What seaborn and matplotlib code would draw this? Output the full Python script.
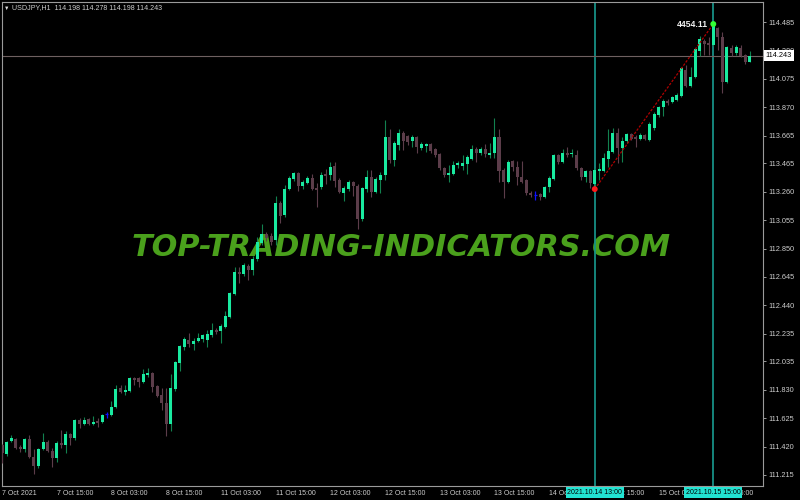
import numpy as np
import pandas as pd
import matplotlib
matplotlib.use('Agg')
import matplotlib.pyplot as plt
import matplotlib.transforms as mtransforms
from matplotlib import font_manager
import seaborn as sns

# USDJPY H1 bars, 7 Oct 2021 03:00 .. 15 Oct 2021 23:00 (165 bars)
bar_open = [
    111.431, 111.366, 111.460, 111.474, 111.417, 111.402, 111.474, 111.344, 111.279, 111.402,
    111.453, 111.388, 111.337, 111.446, 111.431, 111.511, 111.482, 111.612, 111.583, 111.619,
    111.583, 111.604, 111.597, 111.655, 111.648, 111.705, 111.843, 111.814, 111.821, 111.915,
    111.915, 111.886, 111.936, 111.951, 111.857, 111.792, 111.734, 111.583, 111.835, 112.023,
    112.139, 112.189, 112.160, 112.182, 112.196, 112.189, 112.225, 112.261, 112.254, 112.283,
    112.355, 112.521, 112.680, 112.666, 112.723, 112.695, 112.774, 112.890, 112.955, 112.940,
    112.911, 113.178, 113.092, 113.279, 113.352, 113.395, 113.301, 113.323, 113.359, 113.287,
    113.294, 113.388, 113.380, 113.445, 113.344, 113.251, 113.279, 113.330, 113.301, 113.063,
    113.279, 113.366, 113.258, 113.344, 113.380, 113.655, 113.489, 113.597, 113.684, 113.662,
    113.626, 113.655, 113.575, 113.590, 113.604, 113.568, 113.532, 113.431, 113.380, 113.388,
    113.453, 113.445, 113.460, 113.496, 113.568, 113.539, 113.568, 113.525, 113.539, 113.655,
    113.417, 113.330, 113.482, 113.438, 113.366, 113.344, 113.251, 113.236, 113.243, 113.222,
    113.294, 113.352, 113.525, 113.474, 113.539, 113.532, 113.525, 113.431, 113.366, 113.409,
    113.316, 113.409, 113.409, 113.496, 113.547, 113.684, 113.575, 113.626, 113.677, 113.655,
    113.640, 113.669, 113.633, 113.720, 113.814, 113.871, 113.915, 113.908, 113.922, 113.951,
    114.139, 114.023, 114.088, 114.276, 114.348, 114.334, 114.319, 114.442, 114.377, 114.052,
    114.297, 114.261, 114.297, 114.247, 114.198,
]
bar_high = [
    111.438, 111.460, 111.503, 111.482, 111.431, 111.482, 111.503, 111.402, 111.409, 111.518,
    111.467, 111.409, 111.460, 111.539, 111.532, 111.518, 111.619, 111.626, 111.633, 111.626,
    111.640, 111.626, 111.655, 111.669, 111.749, 111.864, 111.864, 111.864, 111.922, 111.922,
    111.922, 111.980, 111.987, 111.958, 111.864, 111.843, 111.843, 111.944, 112.038, 112.153,
    112.211, 112.240, 112.204, 112.240, 112.232, 112.261, 112.312, 112.276, 112.305, 112.399,
    112.536, 112.716, 112.716, 112.745, 112.738, 112.796, 112.933, 113.027, 112.969, 112.962,
    113.229, 113.193, 113.308, 113.373, 113.402, 113.402, 113.344, 113.373, 113.388, 113.323,
    113.402, 113.424, 113.474, 113.474, 113.359, 113.301, 113.344, 113.337, 113.316, 113.294,
    113.417, 113.417, 113.366, 113.402, 113.778, 113.713, 113.626, 113.713, 113.698, 113.669,
    113.669, 113.662, 113.619, 113.612, 113.612, 113.575, 113.539, 113.438, 113.453, 113.482,
    113.482, 113.525, 113.525, 113.597, 113.583, 113.583, 113.604, 113.612, 113.792, 113.713,
    113.431, 113.489, 113.489, 113.482, 113.482, 113.352, 113.265, 113.265, 113.251, 113.301,
    113.373, 113.532, 113.532, 113.568, 113.583, 113.568, 113.561, 113.438, 113.417, 113.417,
    113.431, 113.467, 113.539, 113.713, 113.720, 113.720, 113.655, 113.684, 113.684, 113.669,
    113.684, 113.677, 113.763, 113.835, 113.879, 113.929, 113.929, 113.951, 113.973, 114.160,
    114.175, 114.160, 114.297, 114.384, 114.362, 114.377, 114.471, 114.449, 114.413, 114.312,
    114.319, 114.319, 114.319, 114.254, 114.278,
]
bar_low = [
    111.301, 111.352, 111.453, 111.402, 111.381, 111.381, 111.337, 111.222, 111.265, 111.395,
    111.381, 111.272, 111.308, 111.409, 111.373, 111.431, 111.467, 111.554, 111.575, 111.575,
    111.575, 111.561, 111.590, 111.626, 111.640, 111.698, 111.807, 111.792, 111.814, 111.864,
    111.850, 111.879, 111.922, 111.814, 111.778, 111.684, 111.496, 111.532, 111.821, 111.965,
    112.117, 112.139, 112.117, 112.175, 112.175, 112.139, 112.211, 112.233, 112.168, 112.276,
    112.348, 112.514, 112.601, 112.651, 112.622, 112.658, 112.760, 112.875, 112.904, 112.875,
    112.875, 113.034, 113.077, 113.272, 113.337, 113.265, 113.279, 113.316, 113.272, 113.149,
    113.279, 113.316, 113.344, 113.294, 113.251, 113.193, 113.265, 113.229, 112.991, 113.048,
    113.258, 113.222, 113.251, 113.251, 113.344, 113.467, 113.445, 113.561, 113.561, 113.597,
    113.583, 113.539, 113.561, 113.547, 113.539, 113.510, 113.417, 113.366, 113.330, 113.380,
    113.431, 113.417, 113.388, 113.489, 113.474, 113.525, 113.510, 113.503, 113.503, 113.330,
    113.214, 113.323, 113.409, 113.308, 113.323, 113.236, 113.222, 113.200, 113.200, 113.214,
    113.258, 113.344, 113.460, 113.467, 113.510, 113.510, 113.417, 113.344, 113.330, 113.287,
    113.279, 113.344, 113.402, 113.438, 113.539, 113.467, 113.474, 113.612, 113.633, 113.583,
    113.633, 113.633, 113.626, 113.705, 113.799, 113.806, 113.886, 113.900, 113.915, 113.944,
    114.016, 114.016, 114.081, 114.240, 114.247, 114.247, 114.312, 114.283, 113.973, 114.045,
    114.240, 114.247, 114.232, 114.182, 114.198,
]
bar_close = [
    111.373, 111.453, 111.482, 111.409, 111.402, 111.474, 111.344, 111.279, 111.402, 111.453,
    111.388, 111.337, 111.446, 111.431, 111.511, 111.482, 111.612, 111.583, 111.612, 111.583,
    111.597, 111.590, 111.648, 111.655, 111.705, 111.835, 111.814, 111.828, 111.915, 111.900,
    111.886, 111.944, 111.951, 111.850, 111.785, 111.734, 111.583, 111.843, 112.030, 112.146,
    112.196, 112.160, 112.182, 112.204, 112.225, 112.233, 112.261, 112.247, 112.290, 112.362,
    112.529, 112.680, 112.666, 112.731, 112.695, 112.774, 112.897, 112.955, 112.926, 112.897,
    113.178, 113.084, 113.279, 113.359, 113.395, 113.301, 113.330, 113.359, 113.279, 113.272,
    113.380, 113.373, 113.438, 113.337, 113.258, 113.287, 113.330, 113.301, 113.063, 113.287,
    113.366, 113.258, 113.352, 113.380, 113.655, 113.489, 113.612, 113.684, 113.626, 113.619,
    113.655, 113.583, 113.604, 113.604, 113.554, 113.525, 113.431, 113.380, 113.395, 113.453,
    113.467, 113.467, 113.510, 113.568, 113.539, 113.568, 113.532, 113.539, 113.655, 113.409,
    113.330, 113.474, 113.438, 113.366, 113.330, 113.251, 113.236, 113.236, 113.222, 113.294,
    113.359, 113.525, 113.474, 113.539, 113.525, 113.539, 113.431, 113.366, 113.409, 113.323,
    113.417, 113.424, 113.503, 113.554, 113.684, 113.575, 113.626, 113.677, 113.640, 113.640,
    113.669, 113.640, 113.749, 113.821, 113.871, 113.915, 113.900, 113.944, 113.958, 114.153,
    114.023, 114.088, 114.290, 114.362, 114.326, 114.319, 114.464, 114.377, 114.052, 114.305,
    114.261, 114.305, 114.240, 114.196, 114.243,
]

x_tick_bars = [0, 12, 24, 36, 48, 60, 72, 84, 96, 108, 120, 132, 144, 156]
x_tick_labels = ['7 Oct 2021', '7 Oct 15:00', '8 Oct 03:00', '8 Oct 15:00',
                 '11 Oct 03:00', '11 Oct 15:00', '12 Oct 03:00', '12 Oct 15:00',
                 '13 Oct 03:00', '13 Oct 15:00', '14 Oct 03:00', '14 Oct 15:00',
                 '15 Oct 03:00', '15 Oct 15:00']
y_ticks = [114.485, 114.280, 114.075, 113.870, 113.665, 113.465, 113.260, 113.055,
           112.850, 112.645, 112.440, 112.235, 112.035, 111.830, 111.625, 111.420, 111.215]

marker_bars = [130, 156]
marker_labels = ['2021.10.14 13:00', '2021.10.15 15:00']
trend_prices = [113.279, 114.471]
trend_text = '4454.11'
bid_price = 114.243
header = 'USDJPY,H1  114.198 114.278 114.198 114.243'
watermark = 'TOP-TRADING-INDICATORS.COM'

UP_BODY = '#19eaa0'
UP_WICK = '#12814f'
DOWN_COL = '#5c3d4a'
DOJI_COL = '#1010ff'
VLINE_COL = '#178f86'
AXIS_COL = '#9a9a9a'
TEXT_COL = '#cdcdcd'
MIN_BODY = 0.005


def draw_candles(ax, df):
    up = df[df.kind == 'up']
    dn = df[df.kind == 'down']
    dj = df[df.kind == 'doji']
    ax.vlines(up.bar, up.low, up.high, color=UP_WICK, lw=0.8, zorder=3)
    ax.vlines(dn.bar, dn.low, dn.high, color=DOWN_COL, lw=0.8, zorder=3)
    ax.bar(up.bar, np.maximum(up.close - up.open, MIN_BODY), bottom=up.open,
           width=0.66, color=UP_BODY, linewidth=0, zorder=4)
    ax.bar(dn.bar, np.maximum(dn.open - dn.close, MIN_BODY), bottom=dn.close,
           width=0.66, color=DOWN_COL, linewidth=0, zorder=4)
    ax.vlines(dj.bar, dj.low, dj.high, color=DOJI_COL, lw=0.9, zorder=3)
    ax.hlines(dj.close, dj.bar - 0.35, dj.bar + 0.35, color=DOJI_COL, lw=0.9, zorder=4)


if __name__ == "__main__":
    df = pd.DataFrame({'open': bar_open, 'high': bar_high, 'low': bar_low, 'close': bar_close})
    df['bar'] = np.arange(len(df))
    df['kind'] = np.where(df.close > df.open, 'up', np.where(df.close < df.open, 'down', 'doji'))

    sns.set_theme(style='dark', rc={'axes.facecolor': 'black', 'figure.facecolor': 'black'})
    plt.rcParams['font.family'] = ['Liberation Sans', 'DejaVu Sans']

    fig = plt.figure(figsize=(8, 5), dpi=100)
    ax = fig.add_axes([2 / 800, 1 - 486 / 500, 761 / 800, 484 / 500])
    ax.set_xlim(0, 166.9)
    ax.set_ylim(111.135, 114.630)

    # watermark
    names = {f.name for f in font_manager.fontManager.ttflist}
    if 'Liberation Sans Narrow' in names:
        wm_family, wm_size = 'Liberation Sans Narrow', 29.5
    else:
        wm_family, wm_size = 'DejaVu Sans', 21.8
    fig.text(401 / 800, 1 - 248 / 500, watermark, ha='center', va='center',
             color='#4aa01c', fontsize=wm_size, family=wm_family,
             fontweight='bold', fontstyle='italic', zorder=0)
    ax.set_zorder(1)
    ax.patch.set_alpha(0)

    # vertical marker lines and bid line
    for b in marker_bars:
        ax.axvline(b, color=VLINE_COL, lw=1.3, zorder=2)
    ax.axhline(bid_price, color='#6e6060', lw=0.8, zorder=2)

    draw_candles(ax, df)

    # trend line between the two markers
    sns.lineplot(x=marker_bars, y=trend_prices, ax=ax, color='#b00000', lw=0.9,
                 linestyle=(0, (2, 1.2)), zorder=5, legend=False)
    sns.scatterplot(x=marker_bars, y=trend_prices, hue=['start', 'end'],
                    palette={'start': '#ff1a1a', 'end': '#33ff33'}, s=18,
                    edgecolor='none', ax=ax, legend=False, zorder=6)
    ax.text(154.8, trend_prices[1] - 0.007, trend_text, ha='right', va='center',
            color='#f0f0f0', fontsize=6.2, fontweight='bold', zorder=6)

    # axes styling
    for sp in ax.spines.values():
        sp.set_color(AXIS_COL)
        sp.set_linewidth(0.8)
    ax.grid(False)
    ax.yaxis.tick_right()
    ax.set_yticks(y_ticks, labels=[f'{v:.3f}' for v in y_ticks])
    ax.set_xticks(x_tick_bars, labels=x_tick_labels)
    for lab in ax.get_xticklabels():
        lab.set_ha('left')
    ax.tick_params(axis='y', direction='out', length=2.5, width=0.7, color=AXIS_COL,
                   labelsize=5.3, labelcolor=TEXT_COL, pad=1.5)
    ax.tick_params(axis='x', direction='out', length=2, width=0.7, color=AXIS_COL,
                   labelsize=5.0, labelcolor=TEXT_COL, pad=1.2)
    ax.set_xlabel('')
    ax.set_ylabel('')

    # date boxes on the time axis
    xb = mtransforms.blended_transform_factory(ax.transData, ax.transAxes)
    for b, lab in zip(marker_bars, marker_labels):
        ax.text(b, -0.0135, lab, transform=xb, ha='center', va='center',
                color='black', fontsize=5.0, clip_on=False, zorder=10,
                bbox=dict(facecolor='#22e3d2', edgecolor='none', pad=1.2))

    # bid price box on the price axis
    yb = mtransforms.blended_transform_factory(ax.transAxes, ax.transData)
    ax.text(1.0 + 2.5 / 761, bid_price, f'{bid_price:.3f}', transform=yb, ha='left',
            va='center', color='black', fontsize=5.3, clip_on=False, zorder=10,
            bbox=dict(facecolor='white', edgecolor='none', pad=1.3))

    # header
    fig.text(4 / 800, 1 - 8 / 500, '\u25bc', ha='left', va='center', color='#e0e0e0', fontsize=4)
    fig.text(12 / 800, 1 - 8 / 500, header, ha='left', va='center', color=TEXT_COL, fontsize=5.1)

    fig.savefig('out.png', dpi=100, facecolor='black')
